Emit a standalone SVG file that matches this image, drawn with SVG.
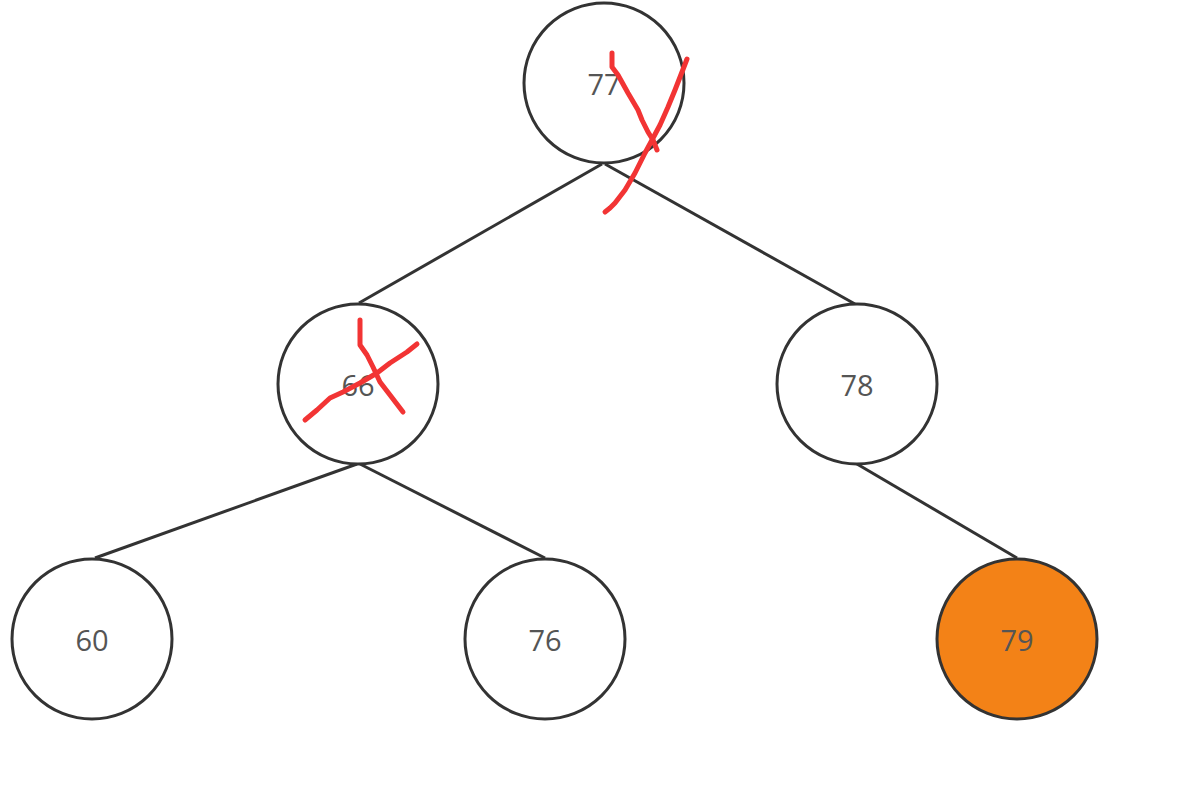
<svg xmlns="http://www.w3.org/2000/svg" width="1201" height="807" viewBox="0 0 1201 807">
<style>
.n{fill:#fff;stroke:#333;stroke-width:3}
.t{font-family:"Open Sans","Noto Sans",sans-serif;font-size:29px;fill:#555;text-anchor:middle;dominant-baseline:central}
.e{stroke:#333;stroke-width:3;fill:none}
.x{stroke:#F23434;stroke-width:5;fill:none;stroke-linecap:round;stroke-linejoin:round}
</style>
<rect width="1201" height="807" fill="#fff"/>
<g id="edges">
<line class="e" x1="602" y1="164" x2="359" y2="303"/>
<line class="e" x1="605" y1="164" x2="855" y2="304"/>
<line class="e" x1="357" y1="464" x2="95" y2="558"/>
<line class="e" x1="360" y1="464" x2="545" y2="558"/>
<line class="e" x1="857" y1="464" x2="1017" y2="558"/>
</g>
<g id="n77"><circle class="n" cx="604" cy="83" r="80"/><text class="t" x="604" y="83">77</text></g>
<g id="n66"><circle class="n" cx="358" cy="384" r="80"/><text class="t" x="358" y="384">66</text></g>
<g id="n78"><circle class="n" cx="857" cy="384" r="80"/><text class="t" x="857" y="384">78</text></g>
<g id="n60"><circle class="n" cx="92" cy="639" r="80"/><text class="t" x="92" y="639">60</text></g>
<g id="n76"><circle class="n" cx="545" cy="639" r="80"/><text class="t" x="545" y="639">76</text></g>
<g id="n79"><circle class="n" cx="1017" cy="639" r="80" style="fill:#F38217"/><text class="t" x="1017" y="639">79</text></g>
<g id="marks">
<path class="x" d="M612,53 L612,67 L618,75 L628,93 L638,110 L642,120 L648,132 L653,140 L657,150"/>
<path class="x" d="M687,59 L682,72 L675,90 L668,107 L660,125 L652,140 L645,153 L635,173 L625,190 L615,203 L610,208 L605,212"/>
<path class="x" d="M360,320 L360,345 L367,355 L373,367 L380,382 L390,395 L403,412"/>
<path class="x" d="M417,344 L407,352 L390,363 L377,373 L360,383 L343,392 L330,398 L317,410 L305,420"/>
</g>
</svg>
